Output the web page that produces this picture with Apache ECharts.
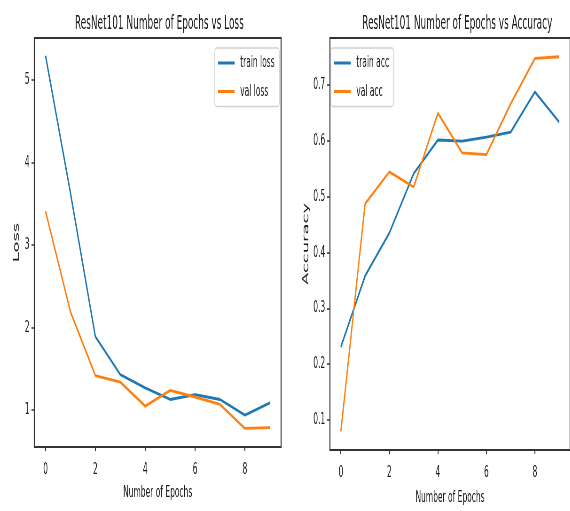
<!DOCTYPE html>
<html>
<head>
<meta charset="utf-8">
<script src="https://cdn.jsdelivr.net/npm/echarts@6/dist/echarts.min.js"></script>
<style>
html,body{margin:0;padding:0;background:#fff;overflow:hidden;width:570px;height:511px;}
#wrap{width:570px;height:511px;overflow:hidden;position:relative;}
/* the reference is a horizontally squeezed figure: draw wide, then squeeze */
#chart{width:1213px;height:511px;transform:scaleX(0.47);transform-origin:0 0;position:absolute;left:0;top:0;}
</style>
</head>
<body>
<div id="wrap"><div id="chart"></div></div>
<script>
const epochs = [0,1,2,3,4,5,6,7,8,9];
const trainLoss = [5.29,3.63,1.89,1.43,1.27,1.13,1.19,1.13,0.94,1.09];
const valLoss   = [3.41,2.19,1.42,1.34,1.05,1.24,1.16,1.07,0.78,0.79];
const trainAcc  = [0.231,0.358,0.435,0.541,0.601,0.599,0.606,0.615,0.687,0.633];
const valAcc    = [0.080,0.487,0.544,0.517,0.649,0.578,0.575,0.666,0.747,0.750];
const xTicks = [0,2,4,6,8];
const lossTicks = [1,2,3,4,5];
const accTicks = [0.1,0.2,0.3,0.4,0.5,0.6,0.7];

const FONT = '"DejaVu Sans", sans-serif';
const TXT = '#1a1a1a';
const BLUE = '#1f77b4', ORANGE = '#ff7f0e';

function pairs(xs, ys){ return xs.map((x,i)=>[x, ys[i]]); }

const chart = echarts.init(document.getElementById('chart'), null, {renderer:'canvas'});

function xAxisCfg(gi){
  return {
    gridIndex: gi, type:'value', min:-0.45, max:9.45,
    name:'Number of Epochs', nameLocation:'middle', nameGap: gi===0?38:40, nameMoveOverlap:false,
    nameTextStyle:{fontFamily:FONT, fontSize:16, color:TXT, verticalAlign:'top'},
    axisLine:{show:false, onZero:false},
    axisTick:{show:true, inside:false, length:4, customValues:xTicks, lineStyle:{color:'#333', width:2}},
    axisLabel:{show:true, customValues:xTicks, margin:15, fontFamily:FONT, fontSize:16, color:TXT},
    splitLine:{show:false}
  };
}
function yAxisCfg(gi, name, gap, mn, mx, ticks, fmt){
  return {
    gridIndex:gi, type:'value', min:mn, max:mx,
    name:name, nameLocation:'middle', nameGap:gap, nameRotate:90, nameMoveOverlap:false,
    nameTextStyle:{fontFamily:FONT, fontSize:18, color:TXT},
    axisLine:{show:false, onZero:false},
    axisTick:{show:true, length:6, customValues:ticks, lineStyle:{color:'#333', width:1.5}},
    axisLabel:{customValues:ticks, margin:10, fontFamily:FONT, fontSize:16, color:TXT, formatter:fmt},
    splitLine:{show:false}
  };
}
function legendCfg(names, left){
  return {
    data:names, orient:'vertical', left:left, top:48,
    icon:'rect', itemWidth:35, itemHeight:3, itemGap:12.4, padding:[7,10,7,7],
    borderColor:'#d0d0d0', borderWidth:1.5, borderRadius:4, backgroundColor:'rgba(255,255,255,0.8)',
    textStyle:{fontFamily:FONT, fontSize:16, color:TXT, padding:[0,0,0,7]}
  };
}

const option = {
  animation:false,
  backgroundColor:'#fff',
  title:[
    {text:'ResNet101 Number of Epochs vs Loss', left:334, top:10, textAlign:'center',
     textStyle:{fontFamily:FONT, fontSize:19, fontWeight:'normal', color:TXT}},
    {text:'ResNet101 Number of Epochs vs Accuracy', left:968, top:10, textAlign:'center',
     textStyle:{fontFamily:FONT, fontSize:19, fontWeight:'normal', color:TXT}}
  ],
  legend:[ legendCfg(['train loss','val loss'], 457), legendCfg(['train acc','val acc'], 704) ],
  grid:[
    {left:73, top:38, width:525, height:409, show:true, borderColor:'#333', borderWidth:2.2, backgroundColor:'#fff'},
    {left:702, top:38, width:534, height:414, show:true, borderColor:'#333', borderWidth:2.2, backgroundColor:'#fff'}
  ],
  xAxis:[xAxisCfg(0), xAxisCfg(1)],
  yAxis:[
    yAxisCfg(0, 'Loss', 29, 0.555, 5.505, lossTicks, (v)=>String(v)),
    yAxisCfg(1, 'Accuracy', 42, 0.0465, 0.7835, accTicks, (v)=>v.toFixed(1))
  ],
  series:[
    {name:'train loss', type:'line', xAxisIndex:0, yAxisIndex:0, data:pairs(epochs,trainLoss),
     showSymbol:false, color:BLUE, lineStyle:{width:2.8, color:BLUE}},
    {name:'val loss', type:'line', xAxisIndex:0, yAxisIndex:0, data:pairs(epochs,valLoss),
     showSymbol:false, color:ORANGE, lineStyle:{width:2.8, color:ORANGE}},
    {name:'train acc', type:'line', xAxisIndex:1, yAxisIndex:1, data:pairs(epochs,trainAcc),
     showSymbol:false, color:BLUE, lineStyle:{width:2.8, color:BLUE}},
    {name:'val acc', type:'line', xAxisIndex:1, yAxisIndex:1, data:pairs(epochs,valAcc),
     showSymbol:false, color:ORANGE, lineStyle:{width:2.8, color:ORANGE}}
  ]
};
chart.setOption(option);
</script>
</body>
</html>
